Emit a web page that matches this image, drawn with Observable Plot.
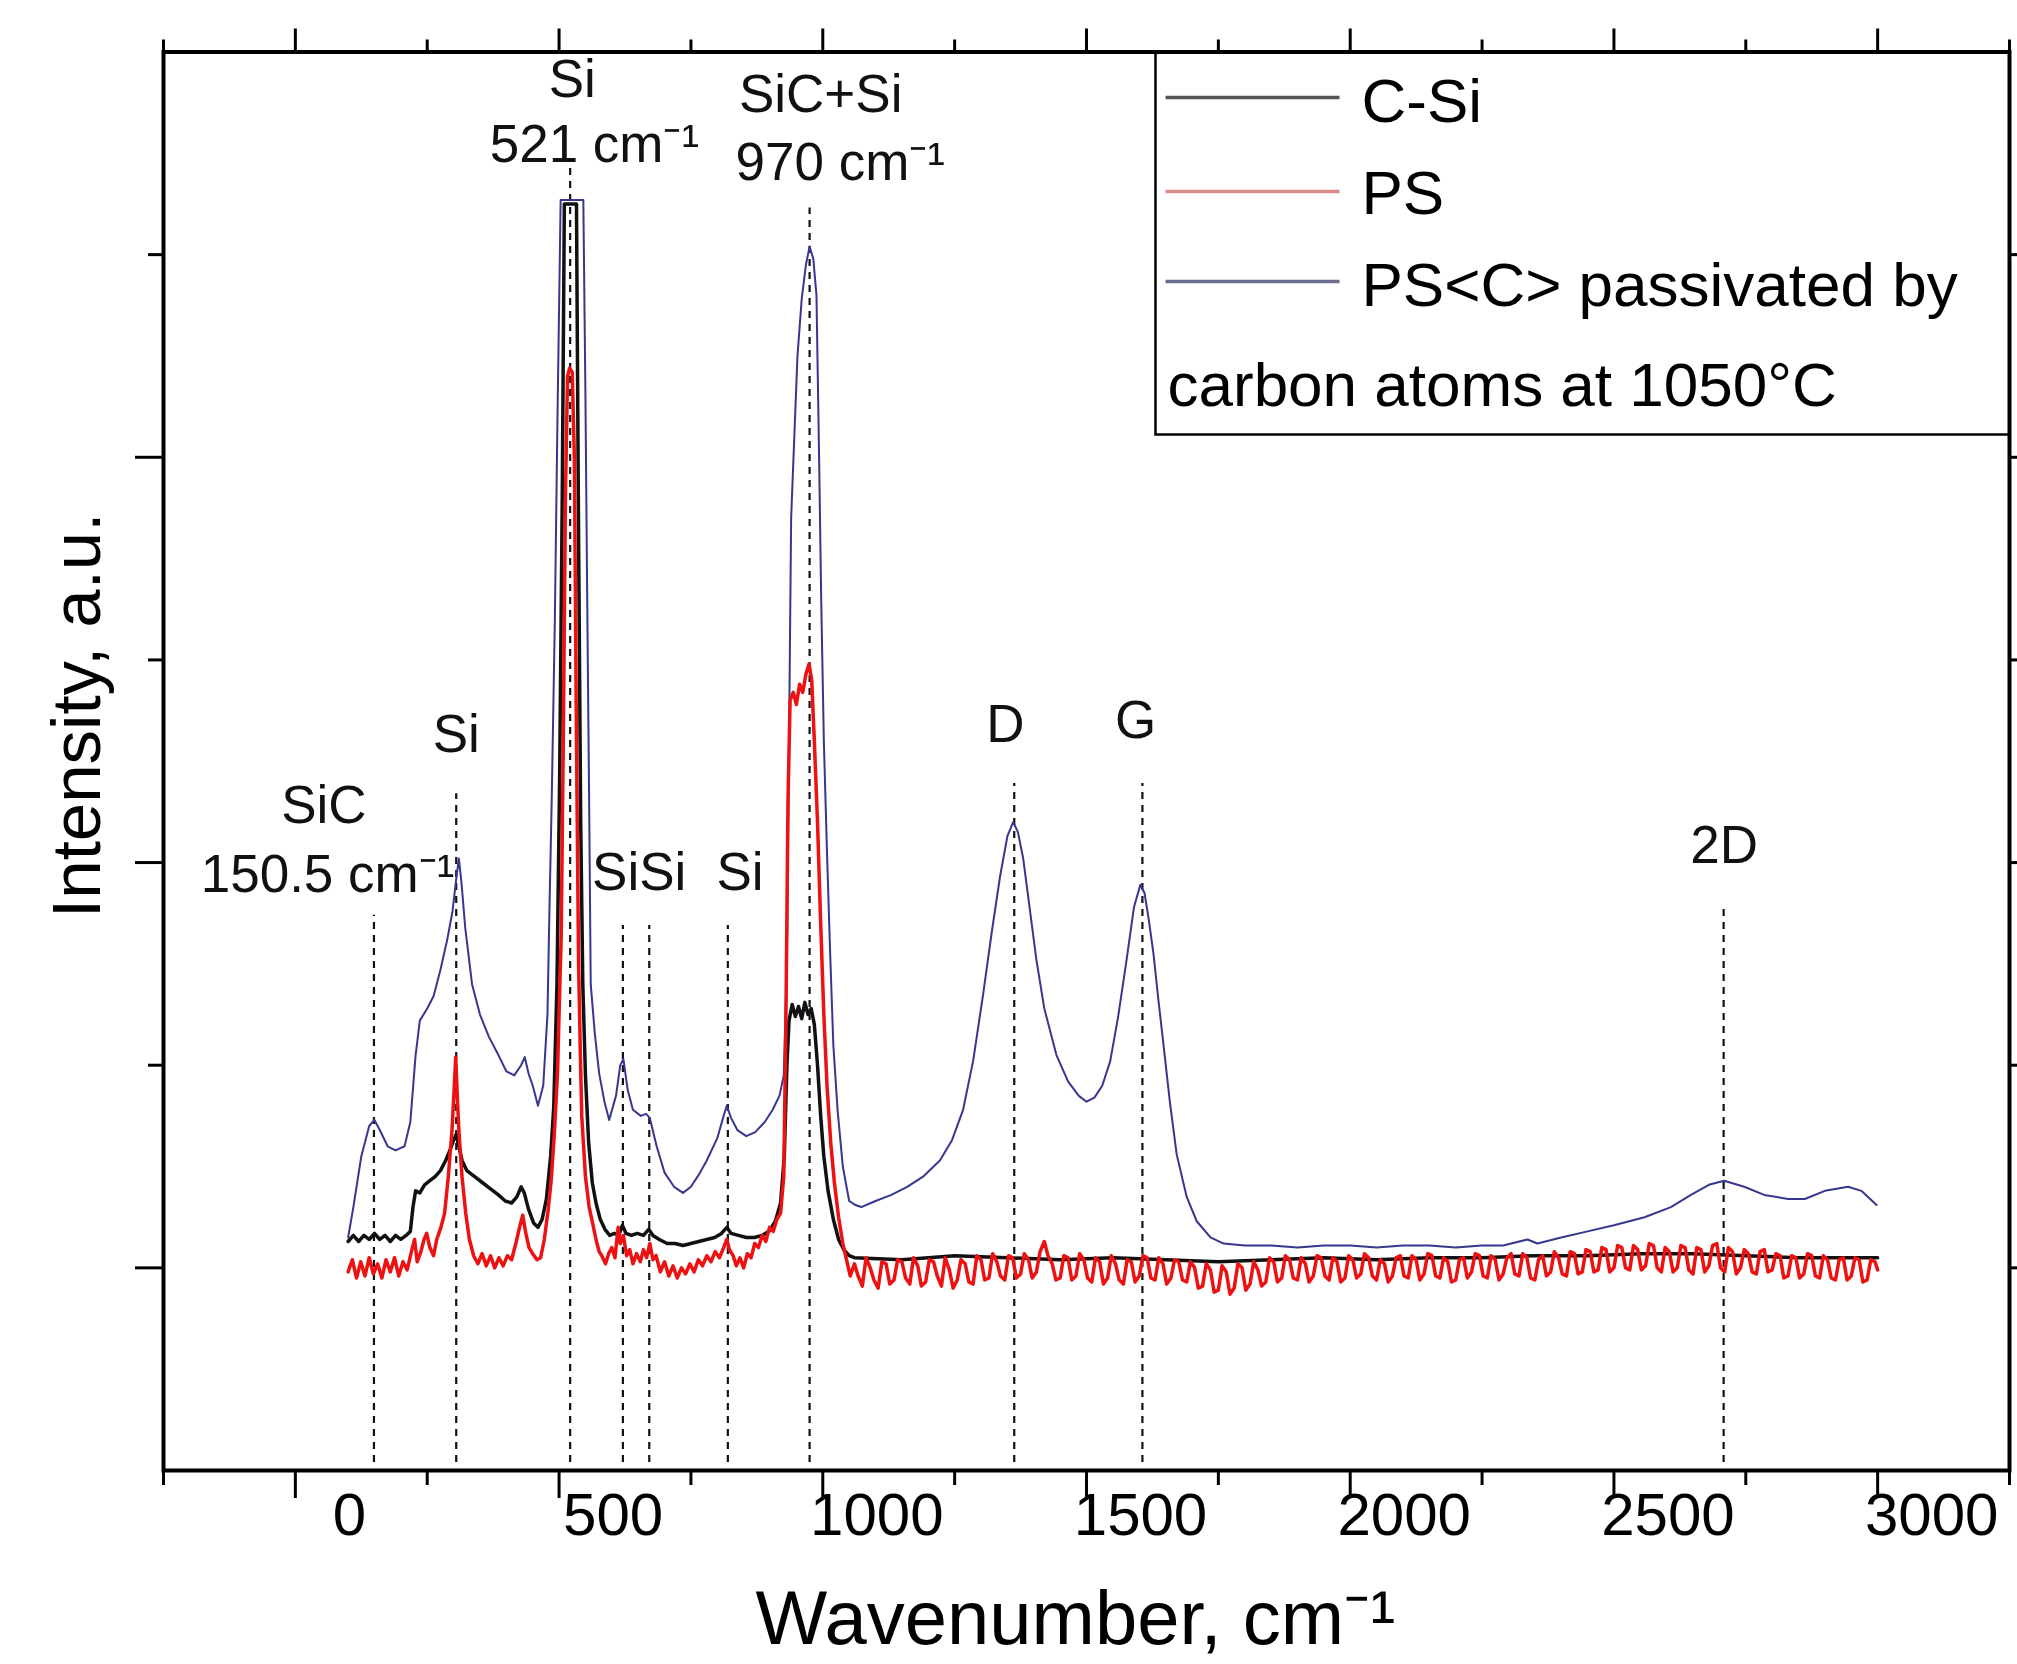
<!DOCTYPE html>
<html><head><meta charset="utf-8">
<script src="https://cdn.jsdelivr.net/npm/d3@7"></script>
<script src="https://cdn.jsdelivr.net/npm/@observablehq/plot@0.6"></script>
<style>html,body{margin:0;padding:0;background:#fff;}</style>
</head><body><div id="chart"></div>
<script>
// ---------- data ----------
const seriesNames = ["C-Si", "PS", "PS<C> passivated by", "carbon atoms at 1050°C"];

const cSiWavenumber = [100,110,120,130,140,150,160,170,180,190,200,210,218,223,228,236,245,255,265,275,285,293,300,305,310,316,325,340,355,370,385,398,410,420,428,434,442,452,460,468,476,484,490,496,501,506,510,533,537,541,545,550,556,563,570,578,587,596,605,613,620,627,637,648,660,670,678,690,705,720,735,750,765,780,795,808,818,826,840,855,870,885,898,910,920,927,932,936,942,948,954,960,966,972,978,984,990,996,1002,1010,1020,1030,1040,1050,1060,1150,1250,1350,1450,1550,1650,1750,1850,1950,2050,2150,2250,2350,2450,2550,2650,2750,2850,2950,3000];
const cSiIntensity = [0.13,0.16,0.13,0.16,0.14,0.17,0.14,0.16,0.13,0.16,0.14,0.16,0.18,0.30,0.38,0.37,0.41,0.43,0.45,0.48,0.53,0.58,0.63,0.66,0.60,0.53,0.48,0.45,0.42,0.39,0.36,0.33,0.32,0.35,0.40,0.37,0.29,0.22,0.20,0.24,0.34,0.55,0.80,1.40,2.40,3.80,5.25,5.25,3.60,2.20,1.40,0.95,0.62,0.42,0.32,0.24,0.19,0.16,0.17,0.16,0.21,0.17,0.16,0.17,0.16,0.19,0.16,0.14,0.12,0.12,0.11,0.12,0.13,0.14,0.15,0.17,0.20,0.17,0.16,0.15,0.15,0.16,0.18,0.23,0.32,0.55,1.00,1.22,1.30,1.24,1.29,1.23,1.31,1.25,1.28,1.20,1.00,0.75,0.55,0.38,0.24,0.14,0.09,0.06,0.05,0.04,0.06,0.05,0.04,0.05,0.04,0.03,0.04,0.05,0.04,0.05,0.05,0.06,0.06,0.07,0.07,0.06,0.05,0.05,0.05];

// PS: peak region 100-1052 cm-1
const psWavenumber = [100,108,116,124,132,140,148,156,164,172,180,188,196,204,212,220,226,231,238,244,249,255,262,268,276,283,290,297,301,304,307,310,316,323,330,338,346,354,362,370,378,386,394,402,410,418,425,431,437,443,450,458,465,472,479,485,491,497,501,504,508,512,516,520,525,529,533,537,540,543,550,557,562,570,576,581,588,594,600,606,612,616,622,628,634,640,647,654,660,666,672,678,684,692,700,708,716,724,732,740,748,756,764,772,780,788,796,804,812,818,823,830,836,843,850,857,864,871,878,885,892,899,906,913,920,926,930,934,938,944,950,956,962,968,974,979,984,990,996,1002,1008,1015,1022,1030,1038,1045,1052];
const psIntensity = [-0.02,0.04,-0.05,0.03,-0.04,0.05,-0.03,0.02,-0.05,0.04,-0.02,0.05,-0.04,0.03,-0.01,0.08,0.14,0.03,0.08,0.14,0.17,0.10,0.06,0.14,0.20,0.27,0.45,0.68,0.88,1.04,0.85,0.68,0.45,0.27,0.14,0.06,0.02,0.07,0.01,0.06,0.00,0.05,0.01,0.06,0.04,0.12,0.20,0.26,0.17,0.10,0.07,0.04,0.05,0.14,0.28,0.43,0.66,0.96,1.35,1.63,2.60,3.80,4.40,4.44,4.42,4.00,2.60,1.50,1.10,0.75,0.45,0.30,0.24,0.14,0.08,0.06,0.02,0.07,0.10,0.05,0.20,0.12,0.16,0.06,0.09,0.02,0.07,0.03,0.09,0.05,0.12,0.04,0.06,-0.02,0.03,-0.04,0.01,-0.05,0.00,-0.03,0.02,-0.02,0.04,0.01,0.06,0.03,0.08,0.05,0.10,0.14,0.09,0.06,0.01,0.05,0.00,0.07,0.05,0.12,0.10,0.16,0.13,0.20,0.18,0.24,0.27,0.45,1.20,2.30,2.80,2.84,2.78,2.88,2.84,2.93,2.98,2.90,2.60,2.20,1.70,1.25,0.90,0.62,0.42,0.25,0.12,0.04,-0.04];
// PS: noisy baseline 1060-3000 cm-1
const psBaselineWavenumber = [
1060,1067,1075,1082,1090,1097,1105,1112,1120,1127,
1135,1142,1150,1157,1165,1172,1180,1187,1195,1202,
1210,1217,1225,1232,1240,1247,1255,1262,1270,1277,
1285,1292,1300,1307,1315,1322,1330,1337,1345,1352,
1360,1367,1375,1382,1390,1397,1405,1412,1420,1427,
1435,1442,1450,1457,1465,1472,1480,1487,1495,1502,
1510,1517,1525,1532,1540,1547,1555,1562,1570,1577,
1585,1592,1600,1607,1615,1622,1630,1637,1645,1652,
1660,1667,1675,1682,1690,1697,1705,1712,1720,1727,
1735,1742,1750,1757,1765,1772,1780,1787,1795,1802,
1810,1817,1825,1832,1840,1847,1855,1862,1870,1877,
1885,1892,1900,1907,1915,1922,1930,1937,1945,1952,
1960,1967,1975,1982,1990,1997,2005,2012,2020,2027,
2035,2042,2050,2057,2065,2072,2080,2087,2095,2102,
2110,2117,2125,2132,2140,2147,2155,2162,2170,2177,
2185,2192,2200,2207,2215,2222,2230,2237,2245,2252,
2260,2267,2275,2282,2290,2297,2305,2312,2320,2327,
2335,2342,2350,2357,2365,2372,2380,2387,2395,2402,
2410,2417,2425,2432,2440,2447,2455,2462,2470,2477,
2485,2492,2500,2507,2515,2522,2530,2537,2545,2552,
2560,2567,2575,2582,2590,2597,2605,2612,2620,2627,
2635,2642,2650,2657,2665,2672,2680,2687,2695,2702,
2710,2717,2725,2732,2740,2747,2755,2762,2770,2777,
2785,2792,2800,2807,2815,2822,2830,2837,2845,2852,
2860,2867,2875,2882,2890,2897,2905,2912,2920,2927,
2935,2942,2950,2957,2965,2972,2980,2987,2995,3000];
const psBaselineIntensity = [
0.02,-0.04,-0.09,0.05,0.00,-0.06,-0.10,0.03,0.02,-0.08,
-0.06,0.04,0.03,-0.05,-0.08,0.05,0.01,-0.09,-0.07,0.04,
0.03,-0.04,-0.09,0.05,-0.01,-0.10,-0.06,0.04,0.02,-0.07,
-0.08,0.06,0.04,-0.06,-0.05,0.07,0.03,-0.04,-0.06,0.06,
0.05,-0.05,-0.03,0.07,0.04,-0.05,-0.02,0.08,0.13,0.06,
0.02,-0.06,-0.05,0.06,0.05,-0.06,-0.04,0.07,0.04,-0.05,
-0.07,0.05,0.03,-0.08,-0.05,0.06,0.02,-0.06,-0.08,0.04,
0.03,-0.07,-0.04,0.06,0.05,-0.05,-0.06,0.05,0.02,-0.08,
-0.05,0.04,0.03,-0.06,-0.07,0.03,0.00,-0.10,-0.09,0.02,
-0.01,-0.12,-0.11,0.01,-0.02,-0.13,-0.10,0.02,0.00,-0.11,
-0.08,0.03,-0.01,-0.09,-0.07,0.05,0.03,-0.07,-0.05,0.06,
0.04,-0.05,-0.06,0.05,0.02,-0.07,-0.04,0.06,0.05,-0.04,
-0.06,0.05,0.03,-0.07,-0.05,0.06,0.04,-0.05,-0.03,0.07,
0.05,-0.04,-0.06,0.04,0.02,-0.07,-0.04,0.05,0.06,-0.04,
-0.05,0.06,0.04,-0.06,-0.03,0.07,0.06,-0.04,-0.05,0.05,
0.03,-0.07,-0.06,0.04,0.05,-0.05,-0.02,0.07,0.06,-0.04,
-0.05,0.06,0.04,-0.06,-0.03,0.05,0.07,-0.03,-0.04,0.07,
0.05,-0.05,-0.06,0.04,0.06,-0.04,-0.02,0.08,0.05,-0.03,
-0.04,0.08,0.07,-0.03,-0.02,0.09,0.08,-0.02,-0.01,0.10,
0.09,-0.02,0.00,0.11,0.10,0.00,-0.01,0.11,0.09,-0.01,
0.01,0.12,0.11,0.00,-0.02,0.10,0.08,-0.02,0.00,0.11,
0.10,-0.01,-0.03,0.10,0.09,-0.02,0.01,0.11,0.12,0.00,
-0.02,0.10,0.08,-0.03,0.00,0.09,0.07,-0.02,-0.03,0.08,
0.09,-0.02,-0.01,0.07,0.06,-0.05,-0.04,0.06,0.05,-0.05,
-0.03,0.07,0.06,-0.04,-0.05,0.06,0.04,-0.05,-0.06,0.04,
0.05,-0.06,-0.04,0.05,0.04,-0.07,-0.06,0.04,0.03,-0.01];

const pscWavenumber = [100,110,125,140,150,160,175,190,207,218,228,236,250,262,275,288,298,305,310,315,322,335,350,367,385,400,415,428,435,442,450,460,470,478,482,486,492,497,503,546,550,553,557,560,568,576,586,595,608,616,622,630,640,655,665,672,685,700,718,735,750,765,780,800,812,818,826,838,855,872,890,905,918,926,932,936,940,946,952,960,968,975,982,988,993,997,1002,1008,1014,1020,1028,1038,1050,1062,1073,1100,1130,1160,1190,1222,1245,1266,1285,1304,1320,1336,1350,1361,1370,1380,1392,1405,1420,1443,1465,1485,1500,1515,1530,1545,1560,1576,1590,1602,1610,1618,1627,1636,1646,1658,1671,1690,1709,1735,1760,1800,1850,1900,1950,2000,2050,2100,2150,2200,2250,2290,2336,2355,2400,2450,2500,2558,2608,2646,2680,2709,2747,2785,2830,2862,2900,2944,2969,2998];
const pscIntensity = [0.15,0.30,0.55,0.70,0.73,0.68,0.60,0.58,0.60,0.72,1.05,1.22,1.28,1.34,1.47,1.62,1.76,1.92,2.02,1.90,1.68,1.40,1.25,1.14,1.05,0.97,0.95,1.00,1.04,0.96,0.90,0.80,0.90,1.25,1.80,2.30,3.20,4.20,5.27,5.27,4.30,3.40,2.30,1.40,1.15,0.96,0.82,0.73,0.85,1.00,1.03,0.88,0.78,0.75,0.76,0.74,0.60,0.47,0.40,0.37,0.40,0.46,0.53,0.64,0.75,0.80,0.74,0.68,0.65,0.67,0.72,0.78,0.85,0.95,1.50,2.60,3.70,4.10,4.50,4.78,4.95,5.04,4.98,4.80,4.00,3.30,2.60,2.05,1.55,1.10,0.78,0.50,0.33,0.31,0.30,0.33,0.36,0.40,0.45,0.53,0.63,0.78,1.02,1.35,1.65,1.93,2.13,2.20,2.15,2.02,1.78,1.52,1.28,1.05,0.92,0.85,0.82,0.84,0.90,1.02,1.24,1.52,1.78,1.89,1.85,1.72,1.55,1.33,1.10,0.82,0.56,0.35,0.23,0.15,0.12,0.11,0.11,0.10,0.11,0.11,0.10,0.11,0.11,0.10,0.11,0.11,0.14,0.12,0.15,0.18,0.21,0.25,0.30,0.36,0.41,0.43,0.40,0.36,0.34,0.34,0.38,0.40,0.38,0.31];

// peak markers (dashed lines) and their labels
const markerWavenumber = [149, 305, 521, 621, 671, 820, 975, 1363, 1606, 2708];
const markerTop = [1.74, 2.34, 5.45, 1.69, 1.69, 1.69, 5.23, 2.39, 2.39, 1.79];
const peakLabelText = ["SiC", "150.5 cm\u207B\u00B9", "Si", "Si", "521 cm\u207B\u00B9", "SiSi", "Si", "SiC+Si", "970 cm\u207B\u00B9", "D", "G", "2D"];
const peakLabelX = [54, 61, 305, 525, 567, 652, 843, 996, 1033, 1346, 1593, 2709];
const peakLabelY = [2.28, 1.94, 2.63, 5.86, 5.54, 1.95, 1.95, 5.79, 5.45, 2.68, 2.70, 2.08];

// axis ticks
const xMajorTicks = [0, 500, 1000, 1500, 2000, 2500, 3000];
const xMinorTicks = [-250, 250, 750, 1250, 1750, 2250, 2750, 3250];
const yMajorTicks = [0, 2, 4];
const yMinorTicks = [1, 3, 5];
const yAllTicks = [0, 1, 2, 3, 4, 5];

// ---------- build tables ----------
const toRows = (xs, ys) => xs.map((x, i) => ({x, y: ys[i]}));
const cSiRows = toRows(cSiWavenumber, cSiIntensity);
const psRows = toRows(psWavenumber, psIntensity).concat(toRows(psBaselineWavenumber, psBaselineIntensity));
const pscRows = toRows(pscWavenumber, pscIntensity);
const markerRows = markerWavenumber.map((x, i) => ({x, top: markerTop[i]}));
const labelRows = peakLabelText.map((t, i) => ({t, x: peakLabelX[i], y: peakLabelY[i]}));

const colors = {cSi: "#111111", ps: "#ee1111", psc: "#37378f"};
const legendColors = ["#555555", "#d98a8a", "#6c6c8e"];

// custom legend swatch symbol (horizontal line)
const swatch = {draw(ctx) { ctx.moveTo(-87, 0); ctx.lineTo(87, 0); }};

const legendRowsDy = [45.5, 139.5, 229.5];
const legendTextDy = [49.7, 141.7, 233.7, 333.7];
const legendTextDx = [1198, 1198, 1198, 1004];

const tickStyle = {tickFormat: () => "", label: null, strokeWidth: 3};

const plot = Plot.plot({
  width: 2017,
  height: 1664,
  marginLeft: 163,
  marginRight: 8,
  marginTop: 51.5,
  marginBottom: 194,
  style: {fontFamily: "'Liberation Sans', Arial, Helvetica, sans-serif", background: "#fff", color: "#000"},
  x: {domain: [-250, 3250], label: null},
  y: {domain: [-1, 6], label: null},
  marks: [
    // dashed peak markers
    Plot.ruleX(markerRows, {x: "x", y1: -0.96, y2: "top", stroke: "#111", strokeWidth: 2.2, strokeDasharray: "7,6"}),
    // spectra
    Plot.line(pscRows, {x: "x", y: "y", stroke: colors.psc, strokeWidth: 2}),
    Plot.line(cSiRows, {x: "x", y: "y", stroke: colors.cSi, strokeWidth: 3.5}),
    Plot.line(psRows, {x: "x", y: "y", stroke: colors.ps, strokeWidth: 3.5}),
    // peak labels
    Plot.text(labelRows, {x: "x", y: "y", text: "t", fontSize: 53, fill: "#111"}),
    // axes (ticks)
    Plot.axisX(xMajorTicks, {anchor: "bottom", tickSize: 28, ...tickStyle}),
    Plot.axisX(xMinorTicks, {anchor: "bottom", tickSize: 15, ...tickStyle}),
    Plot.axisX(xMajorTicks, {anchor: "top", tickSize: 24, ...tickStyle}),
    Plot.axisX(xMinorTicks, {anchor: "top", tickSize: 13, ...tickStyle}),
    Plot.axisX(xMajorTicks, {anchor: "bottom", tickSize: 0, tickPadding: 22, dx: 54, fontSize: 60, label: null, tickFormat: d => String(d)}),
    Plot.axisY(yMajorTicks, {anchor: "left", tickSize: 28, ...tickStyle}),
    Plot.axisY(yMinorTicks, {anchor: "left", tickSize: 15, ...tickStyle}),
    Plot.axisY(yAllTicks, {anchor: "right", tickSize: 15, ...tickStyle}),
    Plot.frame({strokeWidth: 4}),
    // axis titles
    Plot.text(["Wavenumber, cm\u207B\u00B9"], {frameAnchor: "bottom", lineAnchor: "middle", textAnchor: "middle", dx: -11, dy: 149, fontSize: 76}),
    Plot.text(["Intensity, a.u."], {frameAnchor: "left", lineAnchor: "middle", textAnchor: "middle", dx: -86, dy: -46, rotate: -90, fontSize: 69}),
    // legend box
    Plot.frame({insetLeft: 992, insetBottom: 1036, strokeWidth: 2.5}),
    ...[0, 1, 2].map(i => Plot.dot([seriesNames[i]], {frameAnchor: "top-left", dx: 1089, dy: legendRowsDy[i], symbol: swatch, r: 10, fill: "none", stroke: legendColors[i], strokeWidth: 3.5})),
    ...[0, 1, 2, 3].map(i => Plot.text([seriesNames[i]], {frameAnchor: "top-left", dx: legendTextDx[i], dy: legendTextDy[i], textAnchor: "start", lineAnchor: "middle", fontSize: 62}))
  ]
});
document.getElementById("chart").appendChild(plot);
</script>
</body></html>
